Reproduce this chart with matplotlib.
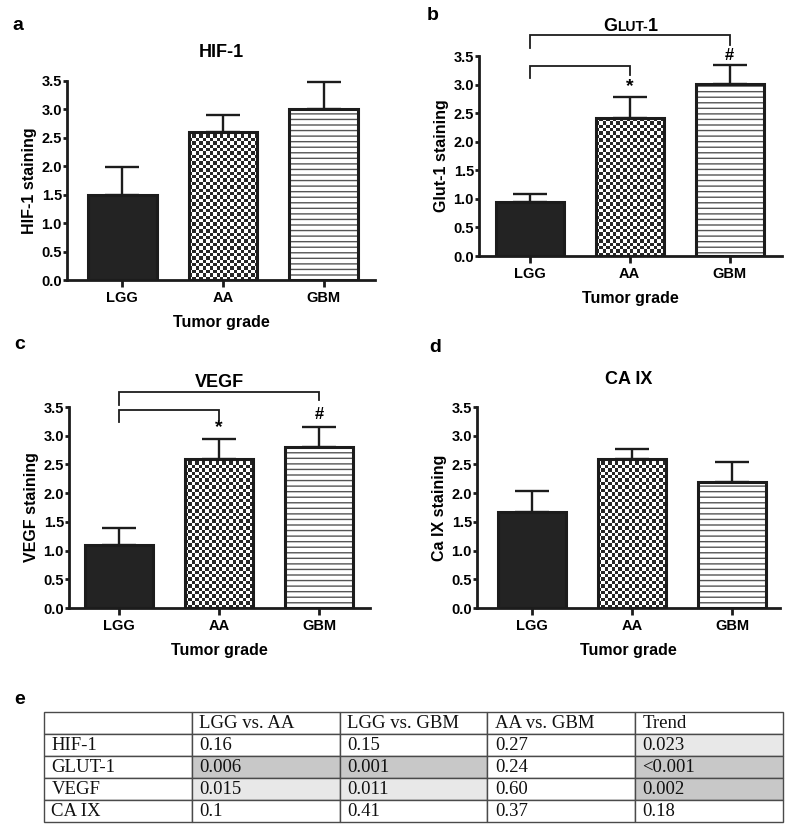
import numpy as np
import matplotlib
matplotlib.use("Agg")
import matplotlib.pyplot as plt
from matplotlib.colors import ListedColormap
from matplotlib.offsetbox import TextArea, HPacker, AnnotationBbox

# ---------------- data ----------------
categories = ["LGG", "AA", "GBM"]

hif1_mean = [1.50, 2.61, 3.01]
hif1_err = [0.48, 0.30, 0.47]

glut1_mean = [0.94, 2.41, 3.01]
glut1_err = [0.14, 0.37, 0.33]

vegf_mean = [1.09, 2.60, 2.80]
vegf_err = [0.30, 0.34, 0.35]

caix_mean = [1.67, 2.60, 2.20]
caix_err = [0.36, 0.16, 0.35]

y_ticks = [0.0, 0.5, 1.0, 1.5, 2.0, 2.5, 3.0, 3.5]

table_header = ["", "LGG vs. AA", "LGG vs. GBM", "AA vs. GBM", "Trend"]
table_rows = ["HIF-1", "GLUT-1", "VEGF", "CA IX"]
p_lgg_aa = ["0.16", "0.006", "0.015", "0.1"]
p_lgg_gbm = ["0.15", "0.001", "0.011", "0.41"]
p_aa_gbm = ["0.27", "0.24", "0.60", "0.37"]
p_trend = ["0.023", "<0.001", "0.002", "0.18"]

# ---------------- style ----------------
plt.rcParams['font.family'] = ['Liberation Sans', 'DejaVu Sans']
plt.rcParams['hatch.linewidth'] = 1.0
INK = '#1c1c1c'

fig = plt.figure(figsize=(8.0, 8.36), dpi=100)
W, H = 800.0, 836.0


def px_axes(left, top, right, bottom):
    return fig.add_axes([left / W, 1 - bottom / H, (right - left) / W, (bottom - top) / H])


def checker_fill(ax, patch, cell=3.4):
    bb = patch.get_window_extent()
    nx = max(1, int(round(bb.width / cell)))
    ny = max(1, int(round(bb.height / cell)))
    arr = np.indices((ny, nx)).sum(axis=0) % 2
    x0 = patch.get_x()
    x1 = x0 + patch.get_width()
    y1 = patch.get_y() + patch.get_height()
    im = ax.imshow(arr, cmap=ListedColormap(['white', '#262626']),
                   extent=(x0, x1, patch.get_y(), y1), aspect='auto',
                   interpolation='nearest', origin='lower', zorder=2.1)
    im.set_clip_path(patch)


def draw_panel(ax, means, errs, ylabel, xlim):
    x = np.arange(len(categories))
    width = 0.68
    ax.set_xlim(*xlim)
    ax.set_ylim(0, 3.5)
    ax.errorbar(x, means, yerr=[np.zeros(len(errs)), errs], fmt='none',
                ecolor=INK, elinewidth=1.7, capsize=12.5, capthick=1.7,
                zorder=1.5, clip_on=False)
    # fills
    ax.bar(x[0], means[0], width, color='#232323', edgecolor='none', zorder=2)
    aa = ax.bar(x[1], means[1], width, color='white', edgecolor='none', zorder=2)
    ax.bar(x[2], means[2], width, color='white', edgecolor='#555555',
           hatch='---', linewidth=0, zorder=2)
    # outlines
    ax.bar(x, means, width, facecolor='none', edgecolor=INK, linewidth=2.2, zorder=3)
    checker_fill(ax, aa.patches[0])
    ax.set_xlim(*xlim)
    ax.set_ylim(0, 3.5)

    for s in ['top', 'right']:
        ax.spines[s].set_visible(False)
    for s in ['left', 'bottom']:
        ax.spines[s].set_linewidth(2.0)
        ax.spines[s].set_color(INK)
    ax.set_xticks(x)
    ax.set_xticklabels(categories, fontsize=10.5, fontweight='bold')
    ax.set_yticks(y_ticks)
    ax.set_yticklabels([f"{v:.1f}" for v in y_ticks], fontsize=10.5, fontweight='bold')
    ax.tick_params(axis='x', length=5, width=2, pad=3.0, color=INK)
    ax.tick_params(axis='y', length=3, width=2, pad=0.6, color=INK)
    ax.set_ylabel(ylabel, fontsize=11.5, fontweight='bold', labelpad=3.5)
    ax.set_xlabel("Tumor grade", fontsize=11.5, fontweight='bold', labelpad=7)


def bracket(ax, x0, x1, y, dl, dr):
    ax.plot([x0, x0, x1, x1], [y - dl, y, y, y - dr], color=INK, lw=1.3,
            clip_on=False, zorder=4, solid_joinstyle='miter')


# panel a
ax_a = px_axes(67, 81, 375, 280)
draw_panel(ax_a, hif1_mean, hif1_err, "HIF-1 staining", (-0.55, 2.51))
ax_a.text(0.5, 1.119, "HIF-1", transform=ax_a.transAxes, ha='center', va='baseline',
          fontsize=13, fontweight='bold')

# panel b
ax_b = px_axes(479, 56, 782, 256)
draw_panel(ax_b, glut1_mean, glut1_err, "Glut-1 staining", (-0.505, 2.525))
tp = dict(fontweight='bold', color='black', family=['Liberation Sans', 'DejaVu Sans'])
parts = [TextArea("G", textprops=dict(fontsize=13, **tp)),
         TextArea("LUT-", textprops=dict(fontsize=10, **tp)),
         TextArea("1", textprops=dict(fontsize=13, **tp))]
pack = HPacker(children=parts, align='baseline', pad=0, sep=0)
ab = AnnotationBbox(pack, (0.5, 1.105), xycoords='axes fraction', frameon=False,
                    box_alignment=(0.5, 0.0), pad=0, annotation_clip=False)
ax_b.add_artist(ab)
bracket(ax_b, 0, 2, 3.87, 0.23, 0.18)
bracket(ax_b, 0, 1, 3.33, 0.21, 0.16)
ax_b.text(1, glut1_mean[1] + glut1_err[1] + 0.19, "*", ha='center', va='center',
          fontsize=14, fontweight='bold')
ax_b.text(2, glut1_mean[2] + glut1_err[2] + 0.17, "#", ha='center', va='center',
          fontsize=12, fontweight='bold')

# panel c
ax_c = px_axes(69, 407, 370, 608)
draw_panel(ax_c, vegf_mean, vegf_err, "VEGF staining", (-0.5, 2.51))
ax_c.text(0.5, 1.10, "VEGF", transform=ax_c.transAxes, ha='center', va='baseline',
          fontsize=13, fontweight='bold')
bracket(ax_c, 0, 2, 3.76, 0.23, 0.14)
bracket(ax_c, 0, 1, 3.45, 0.21, 0.18)
ax_c.text(1, vegf_mean[1] + vegf_err[1] + 0.20, "*", ha='center', va='center',
          fontsize=14, fontweight='bold')
ax_c.text(2, vegf_mean[2] + vegf_err[2] + 0.22, "#", ha='center', va='center',
          fontsize=12, fontweight='bold')

# panel d
ax_d = px_axes(477, 407, 780, 608)
draw_panel(ax_d, caix_mean, caix_err, "Ca IX staining", (-0.55, 2.48))
ax_d.text(0.5, 1.114, "CA IX", transform=ax_d.transAxes, ha='center', va='baseline',
          fontsize=13, fontweight='bold')

# panel letters
for lab, (px, py) in zip("abcde", [(18, 25), (433, 16), (20, 345), (435, 347), (20, 699)]):
    fig.text(px / W, 1 - py / H, lab, fontsize=14, fontweight='bold', ha='center', va='center')

# ---------------- table ----------------
ax_t = px_axes(44, 712, 783, 822)
ax_t.axis('off')


def shade(p):
    v = float(p.replace('<', ''))
    if v < 0.01:
        return '#c8c8c8'
    if v < 0.05:
        return '#e8e8e8'
    return 'white'


cols = [p_lgg_aa, p_lgg_gbm, p_aa_gbm, p_trend]
cell_text = [table_header] + [[table_rows[i]] + [c[i] for c in cols] for i in range(len(table_rows))]
cell_col = [['white'] * 5] + [['white'] + [shade(c[i]) for c in cols] for i in range(len(table_rows))]
tbl = ax_t.table(cellText=cell_text, cellColours=cell_col, cellLoc='left', bbox=[0, 0, 1, 1])
tbl.auto_set_font_size(False)
for (r, c), cell in tbl.get_celld().items():
    cell.set_edgecolor('#4a4a4a')
    cell.set_linewidth(1.0)
    cell.PAD = 0.05
    cell.get_text().set_fontfamily(['Liberation Serif', 'DejaVu Serif'])
    cell.get_text().set_fontsize(13.5)
    cell.get_text().set_color('#111111')

fig.savefig("out.png", dpi=100)
